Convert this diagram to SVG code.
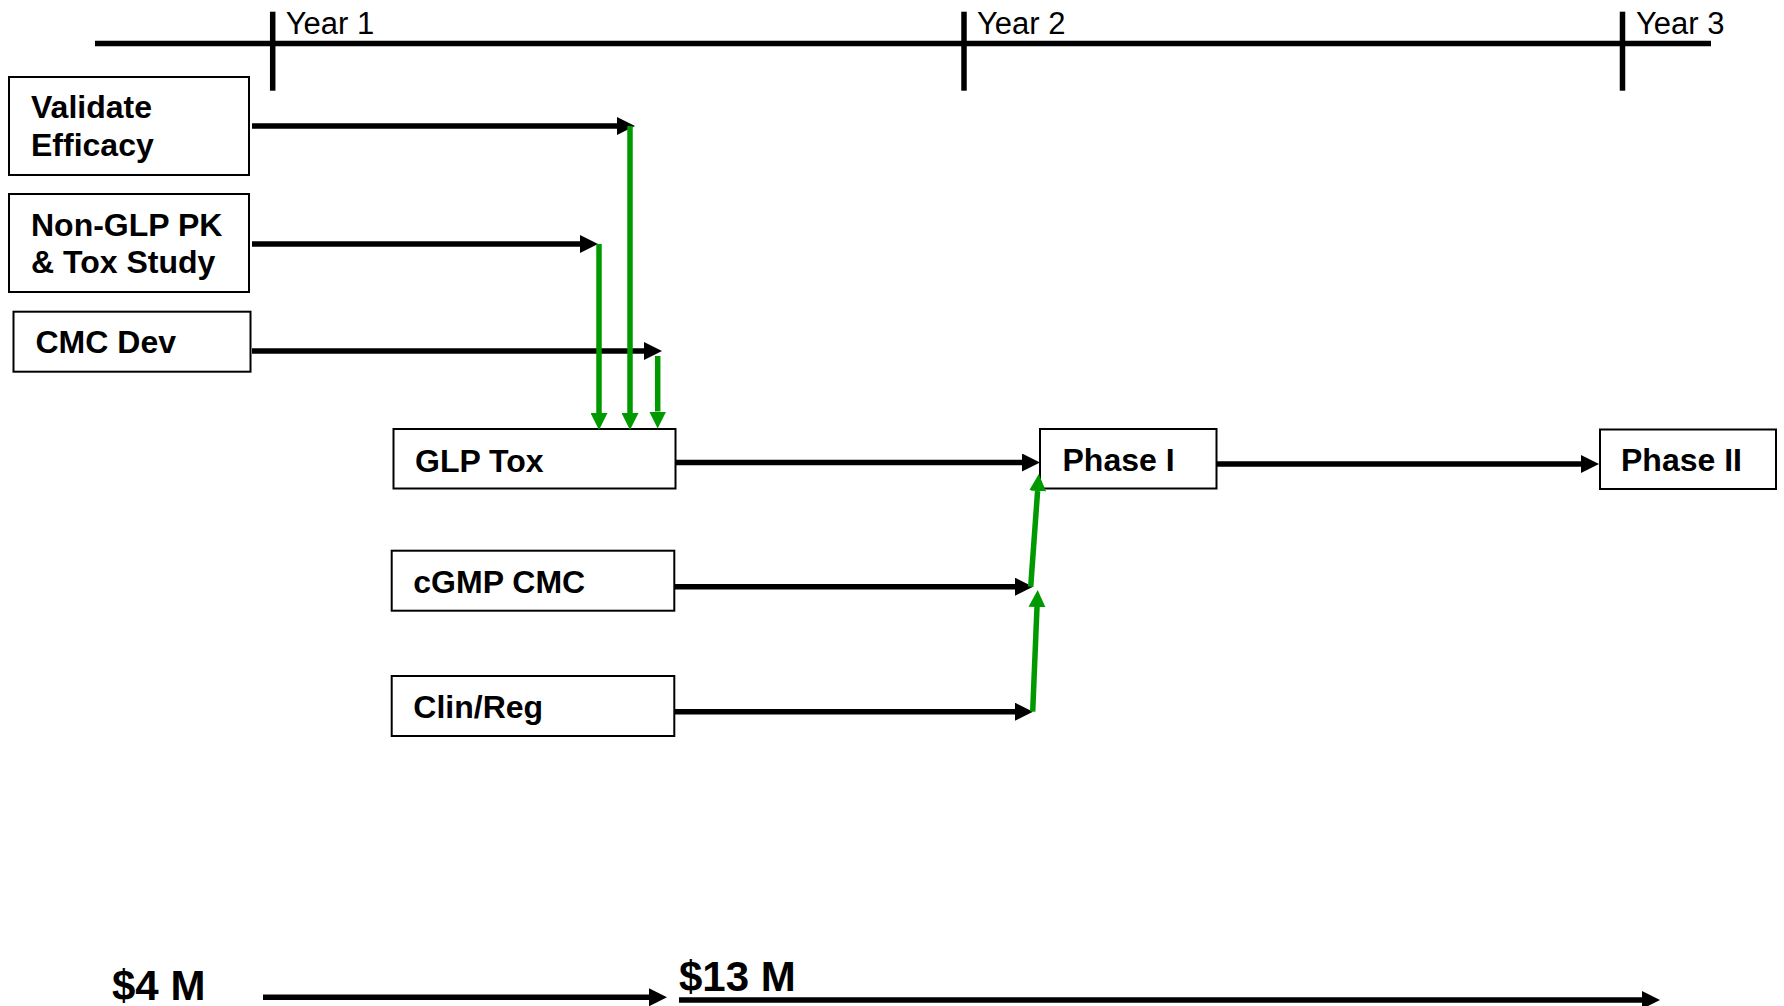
<svg xmlns="http://www.w3.org/2000/svg" width="1784" height="1006" viewBox="0 0 1784 1006">
<style>
.box{fill:#fff;stroke:#000;stroke-width:2}
.lbl{font-family:"Liberation Sans",Arial,sans-serif;font-weight:bold;font-size:32px;fill:#000}
.yr{font-family:"Liberation Sans",Arial,sans-serif;font-size:31px;fill:#000}
.money{font-family:"Liberation Sans",Arial,sans-serif;font-weight:bold;font-size:42px;fill:#000}
.axis{stroke:#000;stroke-width:5.5;fill:none}
.blk{stroke:#000;stroke-width:5.5;fill:none;marker-end:url(#ah)}
.grn{stroke:#009900;stroke-width:5.5;fill:none;marker-end:url(#gh)}
</style>
<defs>
<marker id="ah" viewBox="0 0 18 18" refX="0" refY="9" markerWidth="18" markerHeight="18" markerUnits="userSpaceOnUse" orient="auto">
<path d="M0,0 L18,9 L0,18 Z" fill="#000"/>
</marker>
<marker id="gh" viewBox="0 0 17 17" refX="0" refY="8.5" markerWidth="17" markerHeight="17" markerUnits="userSpaceOnUse" orient="auto">
<path d="M0,0 L17,8.5 L0,17 Z" fill="#009900"/>
</marker>
</defs>
<rect width="1784" height="1006" fill="#fff"/>
<g id="timeline">
<line class="axis" x1="95" y1="43.5" x2="1711" y2="43.5"/>
<line class="axis" x1="272.7" y1="11.7" x2="272.7" y2="90.7"/>
<line class="axis" x1="964" y1="11.7" x2="964" y2="90.7"/>
<line class="axis" x1="1622.5" y1="11.7" x2="1622.5" y2="90.7"/>
<text class="yr" x="285.7" y="33.5">Year 1</text>
<text class="yr" x="977" y="34">Year 2</text>
<text class="yr" x="1636" y="33.5">Year 3</text>
</g>
<g id="validate-efficacy">
<rect class="box" x="9" y="77" width="240" height="98"/>
<text class="lbl" x="31" y="118.3">Validate</text>
<text class="lbl" x="31" y="156">Efficacy</text>
</g>
<g id="non-glp">
<rect class="box" x="9" y="194" width="240" height="98"/>
<text class="lbl" x="31" y="235.7">Non-GLP PK</text>
<text class="lbl" x="31" y="272.7">&amp; Tox Study</text>
</g>
<g id="cmc-dev">
<rect class="box" x="13.5" y="311.7" width="237" height="60"/>
<text class="lbl" x="35.5" y="352.7">CMC Dev</text>
</g>
<g id="glp-tox">
<rect class="box" x="393.5" y="429" width="282" height="59.5"/>
<text class="lbl" x="415" y="471.5">GLP Tox</text>
</g>
<g id="cgmp-cmc">
<rect class="box" x="391.7" y="550.7" width="282.6" height="60"/>
<text class="lbl" x="413.3" y="593.3">cGMP CMC</text>
</g>
<g id="clin-reg">
<rect class="box" x="391.7" y="676" width="282.6" height="60"/>
<text class="lbl" x="413.3" y="717.7">Clin/Reg</text>
</g>
<g id="phase-1">
<rect class="box" x="1040" y="429" width="176.5" height="59.5"/>
<text class="lbl" x="1062.5" y="471">Phase I</text>
</g>
<g id="phase-2">
<rect class="box" x="1600" y="429.5" width="176" height="59.5"/>
<text class="lbl" x="1621" y="471">Phase II</text>
</g>
<g id="budget">
<text class="money" x="112" y="1000">$4 M</text>
<text class="money" x="679" y="990.7">$13 M</text>
</g>
<g id="connectors">
<line class="blk" x1="252" y1="126" x2="617" y2="126"/>
<line class="blk" x1="252" y1="244" x2="580" y2="244"/>
<line class="blk" x1="252" y1="351" x2="644" y2="351"/>
<line class="blk" x1="676" y1="462.5" x2="1022" y2="462.5"/>
<line class="blk" x1="674" y1="586.7" x2="1015" y2="586.7"/>
<line class="blk" x1="674" y1="711.7" x2="1015" y2="711.7"/>
<line class="blk" x1="1217" y1="464" x2="1581" y2="464"/>
<line class="blk" x1="263" y1="997.3" x2="649" y2="997.3"/>
<line class="blk" x1="679" y1="1000" x2="1642" y2="1000"/>
<line class="grn" x1="630" y1="126" x2="630" y2="413"/>
<line class="grn" x1="599" y1="244" x2="599" y2="413"/>
<line class="grn" x1="657.7" y1="356" x2="657.7" y2="411.5"/>
<line class="grn" x1="1032.7" y1="711.7" x2="1037" y2="607"/>
<line class="grn" x1="1030.7" y1="586.7" x2="1037.6" y2="491"/>
</g>
</svg>
